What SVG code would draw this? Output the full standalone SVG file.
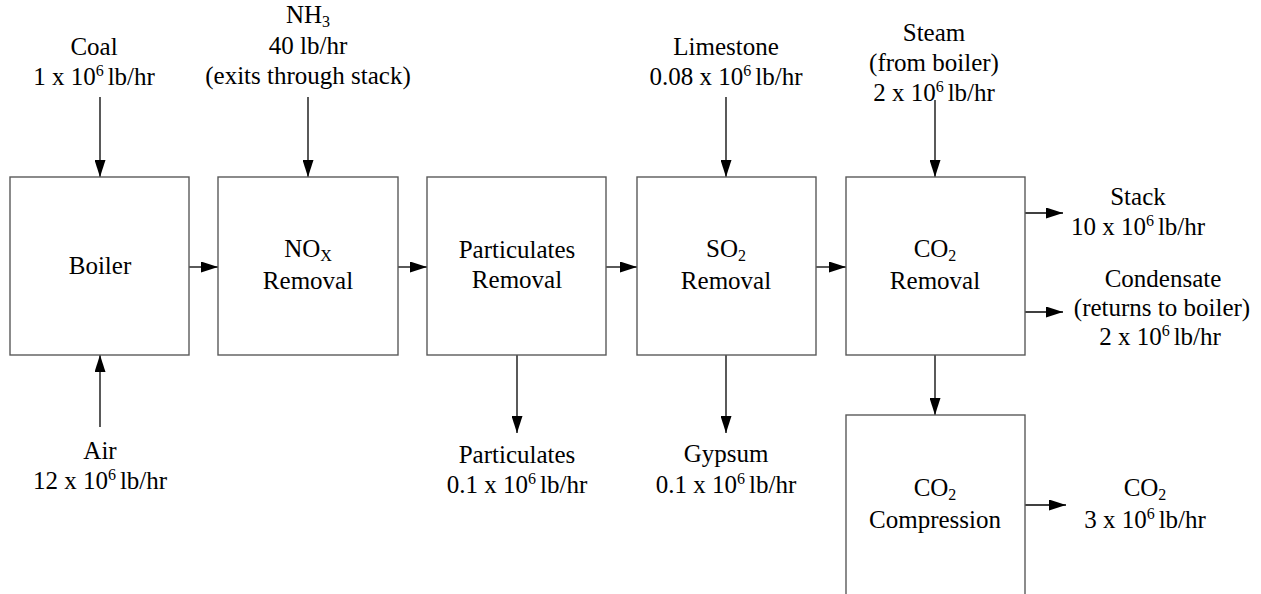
<svg xmlns="http://www.w3.org/2000/svg" width="1261" height="594" viewBox="0 0 1261 594">
<style>
  text { font-family: "Liberation Serif", "Times New Roman", serif; font-size: 25px; fill: #000; text-anchor: middle; }
  .box { fill: #fff; stroke: #5a5a5a; stroke-width: 1.4; }
  .arr { stroke: #000; stroke-width: 1.3; fill: none; marker-end: url(#ah); }
  .s { font-size: 16px; }
</style>
<defs>
  <marker id="ah" markerUnits="userSpaceOnUse" markerWidth="17" markerHeight="11" refX="17" refY="5.5" orient="auto">
    <path d="M0,0 L17,5.5 L0,11 z" fill="#000"/>
  </marker>
</defs>
<rect width="1261" height="594" fill="#fff"/>

<g id="connectors">
  <line class="arr" x1="100" y1="97" x2="100" y2="177"/>
  <line class="arr" x1="308" y1="97" x2="308" y2="177"/>
  <line class="arr" x1="726" y1="97" x2="726" y2="177"/>
  <line class="arr" x1="935" y1="100" x2="935" y2="177"/>
  <line class="arr" x1="100" y1="427" x2="100" y2="355"/>
  <line class="arr" x1="189" y1="267" x2="218" y2="267"/>
  <line class="arr" x1="398" y1="267" x2="427" y2="267"/>
  <line class="arr" x1="606" y1="267" x2="637" y2="267"/>
  <line class="arr" x1="816" y1="267" x2="846" y2="267"/>
  <line class="arr" x1="517" y1="355" x2="517" y2="433"/>
  <line class="arr" x1="726" y1="355" x2="726" y2="433"/>
  <line class="arr" x1="1025" y1="213" x2="1063" y2="213"/>
  <line class="arr" x1="1025" y1="312" x2="1063" y2="312"/>
  <line class="arr" x1="935" y1="355" x2="935" y2="415"/>
  <line class="arr" x1="1025" y1="505" x2="1066" y2="505"/>
</g>

<g id="boiler">
  <rect class="box" x="10" y="177" width="179" height="178"/>
  <text x="100" y="274">Boiler</text>
</g>
<g id="nox-removal">
  <rect class="box" x="218" y="177" width="180" height="178"/>
  <text x="308" y="257">NO<tspan class="s" dy="4">X</tspan></text>
  <text x="308" y="289">Removal</text>
</g>
<g id="particulates-removal">
  <rect class="box" x="427" y="177" width="179" height="178"/>
  <text x="517" y="258">Particulates</text>
  <text x="517" y="288">Removal</text>
</g>
<g id="so2-removal">
  <rect class="box" x="637" y="177" width="179" height="178"/>
  <text x="726" y="257">SO<tspan class="s" dy="4">2</tspan></text>
  <text x="726" y="289">Removal</text>
</g>
<g id="co2-removal">
  <rect class="box" x="846" y="177" width="179" height="178"/>
  <text x="935" y="257">CO<tspan class="s" dy="4">2</tspan></text>
  <text x="935" y="289">Removal</text>
</g>
<g id="co2-compression">
  <rect class="box" x="846" y="415" width="179" height="200"/>
  <text x="935" y="496">CO<tspan class="s" dy="4">2</tspan></text>
  <text x="935" y="528">Compression</text>
</g>

<g id="coal">
  <text x="94" y="55">Coal</text>
  <text x="94" y="85">1 x 10<tspan class="s" dy="-9">6 </tspan><tspan dy="9">lb/hr</tspan></text>
</g>
<g id="nh3">
  <text x="308" y="23">NH<tspan class="s" dy="4">3</tspan></text>
  <text x="308" y="54">40 lb/hr</text>
  <text x="308" y="84">(exits through stack)</text>
</g>
<g id="limestone">
  <text x="726" y="55">Limestone</text>
  <text x="726" y="85">0.08 x 10<tspan class="s" dy="-9">6 </tspan><tspan dy="9">lb/hr</tspan></text>
</g>
<g id="steam">
  <text x="934" y="41">Steam</text>
  <text x="934" y="71">(from boiler)</text>
  <text x="934" y="101">2 x 10<tspan class="s" dy="-9">6 </tspan><tspan dy="9">lb/hr</tspan></text>
</g>
<g id="air">
  <text x="100" y="459">Air</text>
  <text x="100" y="489">12 x 10<tspan class="s" dy="-9">6 </tspan><tspan dy="9">lb/hr</tspan></text>
</g>
<g id="particulates">
  <text x="517" y="463">Particulates</text>
  <text x="517" y="493">0.1 x 10<tspan class="s" dy="-9">6 </tspan><tspan dy="9">lb/hr</tspan></text>
</g>
<g id="gypsum">
  <text x="726" y="462">Gypsum</text>
  <text x="726" y="493">0.1 x 10<tspan class="s" dy="-9">6 </tspan><tspan dy="9">lb/hr</tspan></text>
</g>
<g id="stack">
  <text x="1138" y="205">Stack</text>
  <text x="1138" y="235">10 x 10<tspan class="s" dy="-9">6 </tspan><tspan dy="9">lb/hr</tspan></text>
</g>
<g id="condensate">
  <text x="1163" y="287">Condensate</text>
  <text x="1162" y="316">(returns to boiler)</text>
  <text x="1160" y="345">2 x 10<tspan class="s" dy="-9">6 </tspan><tspan dy="9">lb/hr</tspan></text>
</g>
<g id="co2-product">
  <text x="1145" y="496">CO<tspan class="s" dy="4">2</tspan></text>
  <text x="1145" y="528">3 x 10<tspan class="s" dy="-9">6 </tspan><tspan dy="9">lb/hr</tspan></text>
</g>
</svg>
